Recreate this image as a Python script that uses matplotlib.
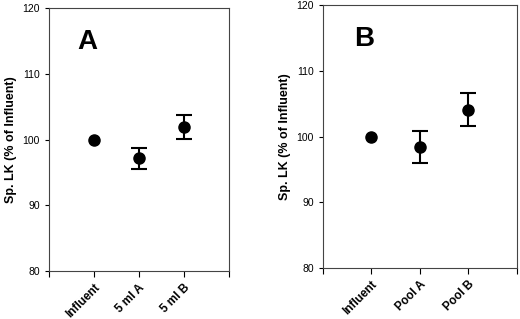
import matplotlib.pyplot as plt

plt.rcParams['font.family'] = ['Liberation Sans', 'DejaVu Sans']

labels_a = ['Influent', '5 ml A', '5 ml B']
means_a = [100.0, 97.2, 101.9]
errs_a = [0.0, 1.6, 1.85]

labels_b = ['Influent', 'Pool A', 'Pool B']
means_b = [100.0, 98.4, 104.1]
errs_b = [0.0, 2.45, 2.45]

fig = plt.figure(figsize=(5.2, 3.19), dpi=100)
ax_a = fig.add_axes([0.094, 0.150, 0.346, 0.824])
ax_b = fig.add_axes([0.621, 0.160, 0.373, 0.824])


def draw_panel(ax, labels, means, errs, letter):
    x = list(range(1, len(labels) + 1))
    # error bars only where there is a spread (influent is the 100% reference)
    ex = [xi for xi, e in zip(x, errs) if e > 0]
    ey = [m for m, e in zip(means, errs) if e > 0]
    ee = [e for e in errs if e > 0]
    ax.errorbar(ex, ey, yerr=ee, fmt='none', ecolor='black',
                elinewidth=1.5, capsize=6, capthick=1.5)
    ax.plot(x, means, 'o', color='black', markersize=8)
    ax.set_xlim(0, 4)
    ax.set_ylim(80, 120)
    ax.set_xticks([0] + x + [4])
    ax.set_xticklabels([''] + labels + [''], rotation=45, ha='right',
                       rotation_mode='anchor', fontsize=8.5, fontweight='bold')
    ax.set_yticks([80, 90, 100, 110, 120])
    ax.tick_params(axis='y', labelsize=7.5, length=3, width=0.8, direction='out')
    ax.tick_params(axis='x', length=4, width=0.8, direction='out')
    for s in ax.spines.values():
        s.set_color('#444444')
        s.set_linewidth(0.8)
    ax.set_ylabel('Sp. LK (% of Influent)', fontsize=9, fontweight='bold')
    ax.text(0.16, 0.92, letter, transform=ax.transAxes, fontsize=20,
            fontweight='bold', va='top', ha='left')


draw_panel(ax_a, labels_a, means_a, errs_a, 'A')
draw_panel(ax_b, labels_b, means_b, errs_b, 'B')

plt.savefig('out.png', dpi=100)
